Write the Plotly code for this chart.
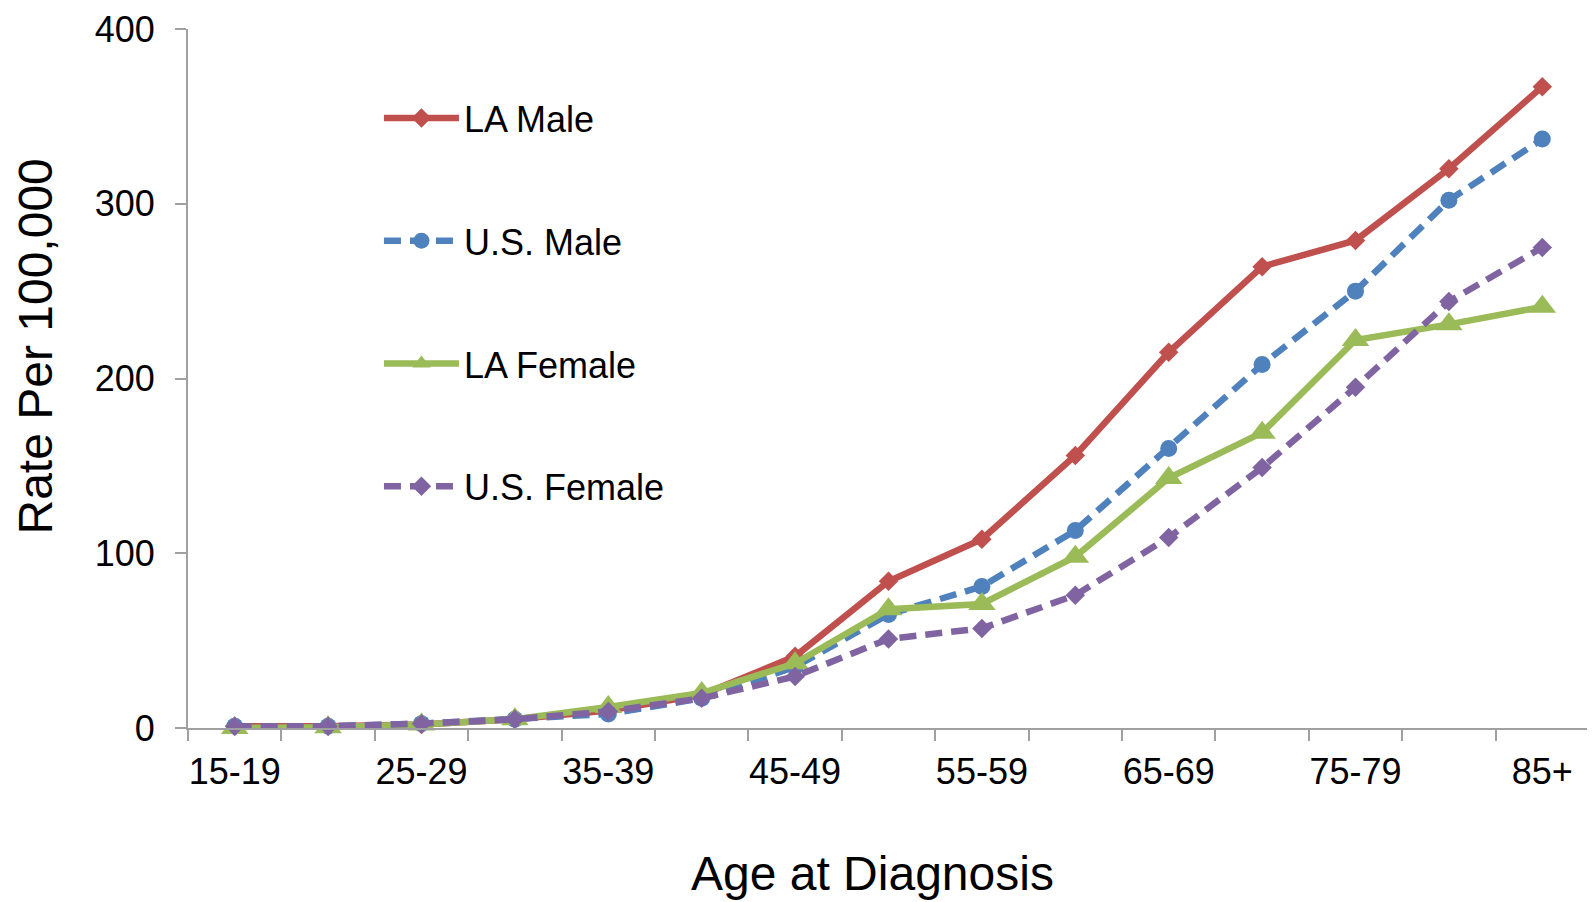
import plotly.graph_objects as go

categories = ["15-19", "20-24", "25-29", "30-34", "35-39", "40-44", "45-49", "50-54",
              "55-59", "60-64", "65-69", "70-74", "75-79", "80-84", "85+"]
la_male = [1, 1, 2, 5, 10, 19, 41, 84, 108, 156, 215, 264, 279, 320, 367]
us_male = [1, 1, 2.5, 5, 8, 17, 35, 65, 81, 113, 160, 208, 250, 302, 337]
la_female = [0, 0.5, 2, 5, 12, 20, 37, 68, 71, 98, 143, 169, 222, 231, 241]
us_female = [1, 1, 2.5, 5, 9.5, 17, 29.5, 51, 57, 76, 109, 149, 195, 244, 275]
y_ticks = [0, 100, 200, 300, 400]
x_title = "Age at Diagnosis"
y_title = "Rate Per 100,000"

xpos = list(range(len(categories)))
label_pos = xpos[::2]
label_txt = categories[::2]
bounds = [i - 0.5 for i in range(len(categories) + 1)]
xr = [-0.5, len(categories) - 0.5]
yr = [0, 400]
axis_grey = "#A0A0A0"

series = [
    ("LA Male", la_male, "#C0504D", "solid", "diamond", 15),
    ("U.S. Male", us_male, "#4F81BD", "17px,9px", "circle", 17),
    ("LA Female", la_female, "#9BBB59", "solid", "triangle-up", 24),
    ("U.S. Female", us_female, "#8064A2", "17px,9px", "diamond", 15),
]

fig = go.Figure()
for name, vals, col, dash, sym, sz in series:
    fig.add_trace(go.Scatter(
        x=xpos, y=vals, name=name, mode="lines+markers", legendgroup=name,
        line=dict(color=col, width=6.5, dash=dash),
        marker=dict(symbol=sym, size=sz, color=col),
        cliponaxis=False,
    ))

fig.update_layout(
    width=1595, height=902,
    paper_bgcolor="white", plot_bgcolor="white",
    margin=dict(l=180, r=14, t=21, b=182),
    font=dict(family="Liberation Sans, Arial, sans-serif", color="black", size=36),
    showlegend=True,
    legend=dict(x=0.1363, y=0.9156, xanchor="left", yanchor="top",
                font=dict(size=36), tracegroupgap=73, bgcolor="rgba(0,0,0,0)",
                itemwidth=75),
    xaxis=dict(
        range=xr, automargin=False, ticklabeloverflow="allow",
        tickmode="array", tickvals=label_pos, ticktext=label_txt,
        ticks="", showgrid=False, zeroline=False, ticklabelstandoff=11,
        showline=True, linecolor=axis_grey, linewidth=2,
        tickfont=dict(size=36),
        minor=dict(tickmode="array", tickvals=bounds, ticks="outside",
                   ticklen=11, tickwidth=2, tickcolor=axis_grey, showgrid=False),
    ),
    xaxis2=dict(
        range=xr, overlaying="x", anchor="y", side="bottom", automargin=False,
        tickmode="array", tickvals=bounds, ticks="inside", ticklen=10,
        tickwidth=2, tickcolor=axis_grey, showticklabels=False,
        showgrid=False, zeroline=False, showline=False,
    ),
    yaxis=dict(
        range=yr, automargin=False, ticklabeloverflow="allow",
        tickmode="array", tickvals=y_ticks,
        ticks="outside", ticklen=11, tickwidth=2, tickcolor=axis_grey,
        showgrid=False, zeroline=False, ticklabelstandoff=13,
        showline=True, linecolor=axis_grey, linewidth=2,
        tickfont=dict(size=36),
    ),
    yaxis2=dict(
        range=yr, overlaying="y", anchor="x", side="left", automargin=False,
        tickmode="array", tickvals=y_ticks, ticks="inside", ticklen=11,
        tickwidth=2, tickcolor=axis_grey, showticklabels=False,
        showgrid=False, zeroline=False, showline=False,
    ),
    annotations=[
        dict(text=x_title, xref="paper", yref="paper", x=0.4886, y=-0.208,
             xanchor="center", yanchor="middle", showarrow=False,
             font=dict(size=48, color="black")),
        dict(text=y_title, xref="paper", yref="paper", x=-0.1092, y=0.5458,
             xanchor="center", yanchor="middle", showarrow=False, textangle=-90,
             font=dict(size=48, color="black")),
    ],
)

fig.write_html("out.html")
